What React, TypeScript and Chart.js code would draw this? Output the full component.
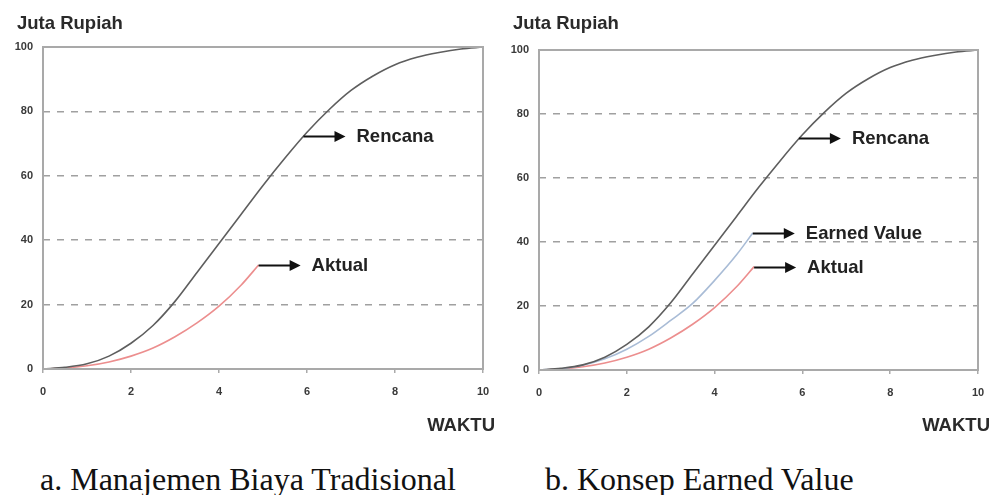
import React, { useEffect, useRef } from "react";
import { Chart, registerables } from "chart.js";

Chart.register(...registerables);

// ---------- data ----------
const yTicks = [0, 20, 40, 60, 80, 100];
const xTicks = [0, 2, 4, 6, 8, 10];

const rencanaX = [0, 0.5, 1, 1.5, 2, 2.5, 3, 3.5, 4, 4.5, 5, 5.5, 6, 6.5, 7, 7.5, 8, 8.5, 9, 9.5, 10];
const rencanaY = [0, 0.5, 1.6, 4, 8, 13.5, 21, 30, 39, 48, 57, 65.5, 73.5, 80.5, 86.5, 91, 94.5, 96.8, 98.3, 99.4, 100];

const aktualX = [0, 0.5, 1, 1.5, 2, 2.5, 3, 3.5, 4, 4.5, 4.9];
const aktualY = [0, 0.3, 1, 2.2, 4, 6.5, 10, 14.3, 19.5, 26, 32.3];

const earnedX = [0, 0.5, 1, 1.5, 2, 2.5, 3, 3.5, 4, 4.5, 4.87];
const earnedY = [0, 0.4, 1.5, 3.5, 6.5, 10.5, 15.5, 20.8, 28, 36, 42.8];

const rencanaArrowAt = [5.92, 72.5];
const titleText = "Juta Rupiah";
const xAxisText = "WAKTU";
const captionA = "a. Manajemen Biaya Tradisional";
const captionB = "b. Konsep Earned Value";

const pts = (xs: number[], ys: number[]) => xs.map((x, i) => ({ x, y: ys[i] }));
const lastOf = (xs: number[], ys: number[]) => [xs[xs.length - 1], ys[ys.length - 1]];

type Arrow = { at: number[]; label: string };

function makeChart(
  canvas: HTMLCanvasElement,
  datasets: any[],
  arrows: Arrow[],
  area: { top: number; right: number; bottom: number }
) {
  const H = 440;
  const plugin = {
    id: "decor",
    afterDatasetsDraw(chart: any) {
      const { ctx, chartArea, scales } = chart;
      const { left, top, right, bottom } = chartArea;
      ctx.save();
      // frame
      ctx.strokeStyle = "#a9a9a9";
      ctx.lineWidth = 2;
      ctx.setLineDash([]);
      ctx.strokeRect(left, top, right - left, bottom - top);
      // arrows + labels
      arrows.forEach((a) => {
        const px = scales.x.getPixelForValue(a.at[0]);
        const py = Math.round(scales.y.getPixelForValue(a.at[1])) + 0.5;
        const len = 42;
        ctx.strokeStyle = "#111";
        ctx.fillStyle = "#111";
        ctx.lineWidth = 2;
        ctx.beginPath();
        ctx.moveTo(px, py);
        ctx.lineTo(px + len - 8, py);
        ctx.stroke();
        ctx.beginPath();
        ctx.moveTo(px + len, py);
        ctx.lineTo(px + len - 11, py - 5.5);
        ctx.lineTo(px + len - 11, py + 5.5);
        ctx.closePath();
        ctx.fill();
        ctx.font = "bold 18.5px 'Liberation Sans', Arial, sans-serif";
        ctx.fillStyle = "#222";
        ctx.textBaseline = "middle";
        ctx.textAlign = "left";
        ctx.fillText(a.label, px + len + 11, py);
      });
      // title and axis text
      ctx.fillStyle = "#2a2a2a";
      ctx.font = "bold 18.5px 'Liberation Sans', Arial, sans-serif";
      ctx.textBaseline = "alphabetic";
      ctx.textAlign = "left";
      ctx.fillText(titleText, 17, 29);
      ctx.textAlign = "right";
      ctx.fillText(xAxisText, right + 12, 431);
      ctx.restore();
    },
  };

  return new Chart(canvas, {
    type: "line",
    data: { datasets },
    plugins: [plugin],
    options: {
      animation: false,
      responsive: false,
      maintainAspectRatio: false,
      layout: { padding: { top: area.top, right: 496 - area.right, left: 0, bottom: 0 } },
      plugins: { legend: { display: false }, tooltip: { enabled: false }, title: { display: false } },
      elements: { point: { radius: 0 } },
      scales: {
        x: {
          type: "linear",
          min: 0,
          max: 10,
          afterBuildTicks: (s: any) => {
            s.ticks = xTicks.map((v) => ({ value: v }));
          },
          afterFit: (s: any) => {
            s.height = H - area.bottom;
            s.paddingLeft = 0;
            s.paddingRight = 0;
          },
          ticks: {
            padding: 12,
            color: "#3a3a3a",
            font: { family: "'Liberation Sans', Arial, sans-serif", size: 11, weight: "bold" },
            maxRotation: 0,
          },
          grid: { drawOnChartArea: false, drawTicks: true, tickLength: 4, color: "#aaaaaa", lineWidth: 1.5 },
          border: { display: false },
        },
        y: {
          type: "linear",
          min: 0,
          max: 100,
          afterBuildTicks: (s: any) => {
            s.ticks = yTicks.map((v) => ({ value: v }));
          },
          afterFit: (s: any) => {
            s.width = 43;
            s.paddingTop = 0;
            s.paddingBottom = 0;
          },
          ticks: {
            padding: 10,
            color: "#3a3a3a",
            font: { family: "'Liberation Sans', Arial, sans-serif", size: 11, weight: "bold" },
          },
          grid: {
            drawTicks: false,
            lineWidth: 1.5,
            color: (c: any) =>
              c.tick && (c.tick.value === 0 || c.tick.value === 100) ? "rgba(0,0,0,0)" : "#a0a0a0",
          },
          border: { display: false, dash: [7, 7] },
        },
      },
    } as any,
  });
}

function ChartPanel(props: { datasets: any[]; arrows: Arrow[]; area: any; left: number }) {
  const ref = useRef<HTMLCanvasElement | null>(null);
  useEffect(() => {
    if (!ref.current) return;
    const c = makeChart(ref.current, props.datasets, props.arrows, props.area);
    return () => c.destroy();
  }, []);
  return (
    <canvas
      ref={ref}
      width={496}
      height={440}
      style={{ position: "absolute", left: props.left, top: 0, width: 496, height: 440 }}
    />
  );
}

const lineStyle = (data: any[], color: string) => ({
  data,
  borderColor: color,
  borderWidth: 1.6,
  pointRadius: 0,
  fill: false,
  cubicInterpolationMode: "monotone",
});

export default function App() {
  const leftSets = [
    lineStyle(pts(rencanaX, rencanaY), "#5e5e5e"),
    lineStyle(pts(aktualX, aktualY), "#ec8e8e"),
  ];
  const rightSets = [
    lineStyle(pts(rencanaX, rencanaY), "#5e5e5e"),
    lineStyle(pts(earnedX, earnedY), "#a9bcd6"),
    lineStyle(pts(aktualX, aktualY), "#ec8e8e"),
  ];
  const leftArrows: Arrow[] = [
    { at: rencanaArrowAt, label: "Rencana" },
    { at: lastOf(aktualX, aktualY), label: "Aktual" },
  ];
  const rightArrows: Arrow[] = [
    { at: rencanaArrowAt, label: "Rencana" },
    { at: lastOf(earnedX, earnedY), label: "Earned Value" },
    { at: lastOf(aktualX, aktualY), label: "Aktual" },
  ];
  const capStyle: React.CSSProperties = {
    position: "absolute",
    top: 463,
    fontFamily: "'Liberation Serif', 'Times New Roman', serif",
    fontSize: 32,
    lineHeight: "32px",
    color: "#111",
    whiteSpace: "nowrap",
  };
  return (
    <div
      style={{
        position: "fixed",
        left: 0,
        top: 0,
        width: 992,
        height: 495,
        overflow: "hidden",
        background: "#fff",
      }}
    >
      <ChartPanel datasets={leftSets} arrows={leftArrows} area={{ top: 47, right: 483, bottom: 369 }} left={0} />
      <ChartPanel datasets={rightSets} arrows={rightArrows} area={{ top: 50, right: 482, bottom: 370 }} left={496} />
      <div style={{ ...capStyle, left: 40 }}>{captionA}</div>
      <div style={{ ...capStyle, left: 545 }}>{captionB}</div>
    </div>
  );
}
